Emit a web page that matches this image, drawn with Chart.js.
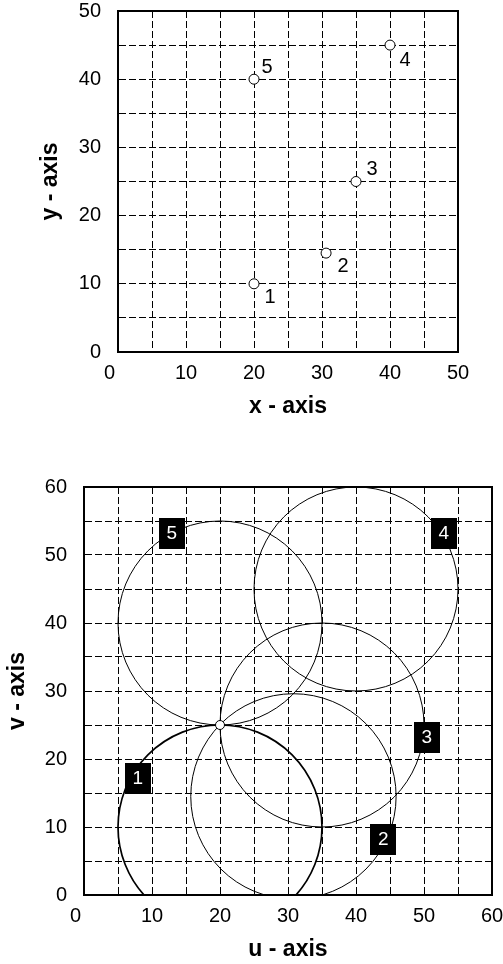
<!DOCTYPE html>
<html>
<head>
<meta charset="utf-8">
<script src="https://cdn.jsdelivr.net/npm/chart.js@4.4.0/dist/chart.umd.min.js"></script>
<style>
  html, body { margin: 0; padding: 0; background: #ffffff; }
  #wrap { position: relative; width: 503px; height: 964px; }
  .box { position: absolute; left: 0; width: 503px; }
  #c1box { top: 0; height: 440px; }
  #c2box { top: 440px; height: 524px; }
</style>
</head>
<body>
<div id="wrap">
  <div class="box" id="c1box"><canvas id="c1" width="503" height="440"></canvas></div>
  <div class="box" id="c2box"><canvas id="c2" width="503" height="524"></canvas></div>
</div>
<script>
// ---------------- data ----------------
// top chart: points
const pointLabels = ['1', '2', '3', '4', '5'];
const pointX = [20, 30.6, 35, 40, 20];
const pointY = [10, 14.5, 25, 45, 40];
const xTicksTop = [0, 10, 20, 30, 40, 50];

// bottom chart: circles
const circleLabels = ['1', '2', '3', '4', '5'];
const circleU = [20, 30.8, 35, 40, 20];
const circleV = [10, 14.5, 25, 45, 40];
const circleR = [15, 15.1, 15, 15, 15];
const labelU = [7.9, 44.0, 50.4, 52.9, 12.9];
const labelV = [17.2, 8.2, 23.2, 53.2, 53.2];
const poleU = [20];
const poleV = [25];
const xTicksBottom = [0, 10, 20, 30, 40, 50, 60];

// ---------------- styles ----------------
const FONT = "'Liberation Sans', Arial, sans-serif";
const pointLabelOffsets = [[16, 14], [17, 13], [16, -12], [15, 15], [13, -12]];
const circleWidths = [1.7, 1, 1, 1, 1];

Chart.defaults.font.family = FONT;
Chart.defaults.color = '#000';
Chart.defaults.animation = false;

const framePlugin = {
  id: 'frame',
  afterDraw(chart) {
    const a = chart.chartArea, ctx = chart.ctx;
    ctx.save();
    ctx.strokeStyle = '#000';
    ctx.lineWidth = 2;
    ctx.setLineDash([]);
    ctx.strokeRect(a.left, a.top, a.right - a.left, a.bottom - a.top);
    ctx.restore();
  }
};

function tickCb(v) {
  if (v === 0) return '0   ';
  return (v % 10 === 0) ? String(v) : '';
}
function yTickCb(v) {
  return (v % 10 === 0) ? String(v) : '';
}
function zeroPad(s) {
  s.paddingTop = 0; s.paddingBottom = 0; s.paddingLeft = 0; s.paddingRight = 0;
}

function makeScales(max, yWidth, xHeight, xTitle, yTitle, xTitlePad, yTitlePad) {
  const common = {
    type: 'linear', min: 0, max: max,
    grid: { color: '#000', lineWidth: 1, drawTicks: false },
    border: { display: true, color: '#000', width: 2, dash: [7, 3] },
  };
  return {
    x: Object.assign({}, common, {
      position: 'bottom',
      ticks: { stepSize: 5, autoSkip: false, maxRotation: 0, padding: 11,
               font: { size: 20, lineHeight: 1 }, color: '#000', callback: tickCb },
      title: { display: true, text: xTitle, color: '#000',
               font: { size: 23, weight: 'bold', lineHeight: 1.2 },
               padding: { top: 0, bottom: xTitlePad } },
      afterFit(s) { s.height = xHeight; zeroPad(s); }
    }),
    y: Object.assign({}, common, {
      position: 'left',
      ticks: { stepSize: 5, autoSkip: false, padding: 17,
               font: { size: 20, lineHeight: 1 }, color: '#000', callback: yTickCb },
      title: { display: true, text: yTitle, color: '#000',
               font: { size: 23, weight: 'bold', lineHeight: 1.2 },
               padding: { top: yTitlePad, bottom: 0 } },
      afterFit(s) { s.width = yWidth; zeroPad(s); }
    })
  };
}

// ---------------- top chart ----------------
const topLabelPlugin = {
  id: 'topLabels',
  afterDatasetsDraw(chart) {
    const ctx = chart.ctx, xs = chart.scales.x, ys = chart.scales.y;
    ctx.save();
    ctx.fillStyle = '#000';
    ctx.font = '20px ' + FONT;
    ctx.textAlign = 'center';
    ctx.textBaseline = 'middle';
    for (let i = 0; i < pointLabels.length; i++) {
      const px = xs.getPixelForValue(pointX[i]) + pointLabelOffsets[i][0];
      const py = ys.getPixelForValue(pointY[i]) + pointLabelOffsets[i][1];
      ctx.fillText(pointLabels[i], px, py);
    }
    ctx.restore();
  }
};

new Chart(document.getElementById('c1'), {
  type: 'scatter',
  data: {
    datasets: [{
      data: pointX.map((x, i) => ({ x: x, y: pointY[i] })),
      pointRadius: 5, pointHoverRadius: 5,
      pointBackgroundColor: '#fff', pointBorderColor: '#000', pointBorderWidth: 1
    }]
  },
  options: {
    responsive: false,
    animation: false,
    layout: { padding: { left: 0, right: 45, top: 11, bottom: 0 } },
    plugins: { legend: { display: false }, tooltip: { enabled: false } },
    scales: makeScales(50, 118, 88, 'x - axis', 'y - axis', 20, 37)
  },
  plugins: [framePlugin, topLabelPlugin]
});

// ---------------- bottom chart ----------------
const circlePlugin = {
  id: 'circles',
  beforeDatasetsDraw(chart) {
    const ctx = chart.ctx, xs = chart.scales.x, ys = chart.scales.y, a = chart.chartArea;
    ctx.save();
    ctx.beginPath();
    ctx.rect(a.left, a.top, a.right - a.left, a.bottom - a.top);
    ctx.clip();
    ctx.strokeStyle = '#000';
    ctx.setLineDash([]);
    for (let i = 0; i < circleU.length; i++) {
      const cx = xs.getPixelForValue(circleU[i]);
      const cy = ys.getPixelForValue(circleV[i]);
      const rx = Math.abs(xs.getPixelForValue(circleU[i] + circleR[i]) - cx);
      const ry = Math.abs(ys.getPixelForValue(circleV[i] + circleR[i]) - cy);
      ctx.lineWidth = circleWidths[i];
      ctx.beginPath();
      ctx.ellipse(cx, cy, rx, ry, 0, 0, Math.PI * 2);
      ctx.stroke();
    }
    ctx.restore();
  },
  afterDatasetsDraw(chart) {
    const ctx = chart.ctx, xs = chart.scales.x, ys = chart.scales.y;
    ctx.save();
    for (let i = 0; i < circleLabels.length; i++) {
      const px = xs.getPixelForValue(labelU[i]);
      const py = ys.getPixelForValue(labelV[i]);
      ctx.fillStyle = '#000';
      ctx.fillRect(Math.round(px - 13), Math.round(py - 15.5), 26, 31);
      ctx.fillStyle = '#fff';
      ctx.font = '19px ' + FONT;
      ctx.textAlign = 'center';
      ctx.textBaseline = 'middle';
      ctx.fillText(circleLabels[i], px, py + 1);
    }
    ctx.restore();
  }
};

new Chart(document.getElementById('c2'), {
  type: 'scatter',
  data: {
    datasets: [{
      data: poleU.map((u, i) => ({ x: u, y: poleV[i] })),
      pointRadius: 4.5, pointHoverRadius: 4.5,
      pointBackgroundColor: '#fff', pointBorderColor: '#000', pointBorderWidth: 1
    }]
  },
  options: {
    responsive: false,
    animation: false,
    layout: { padding: { left: 0, right: 11, top: 47, bottom: 0 } },
    plugins: { legend: { display: false }, tooltip: { enabled: false } },
    scales: makeScales(60, 84, 69, 'u - axis', 'v - axis', 1, 4)
  },
  plugins: [framePlugin, circlePlugin]
});
</script>
</body>
</html>
